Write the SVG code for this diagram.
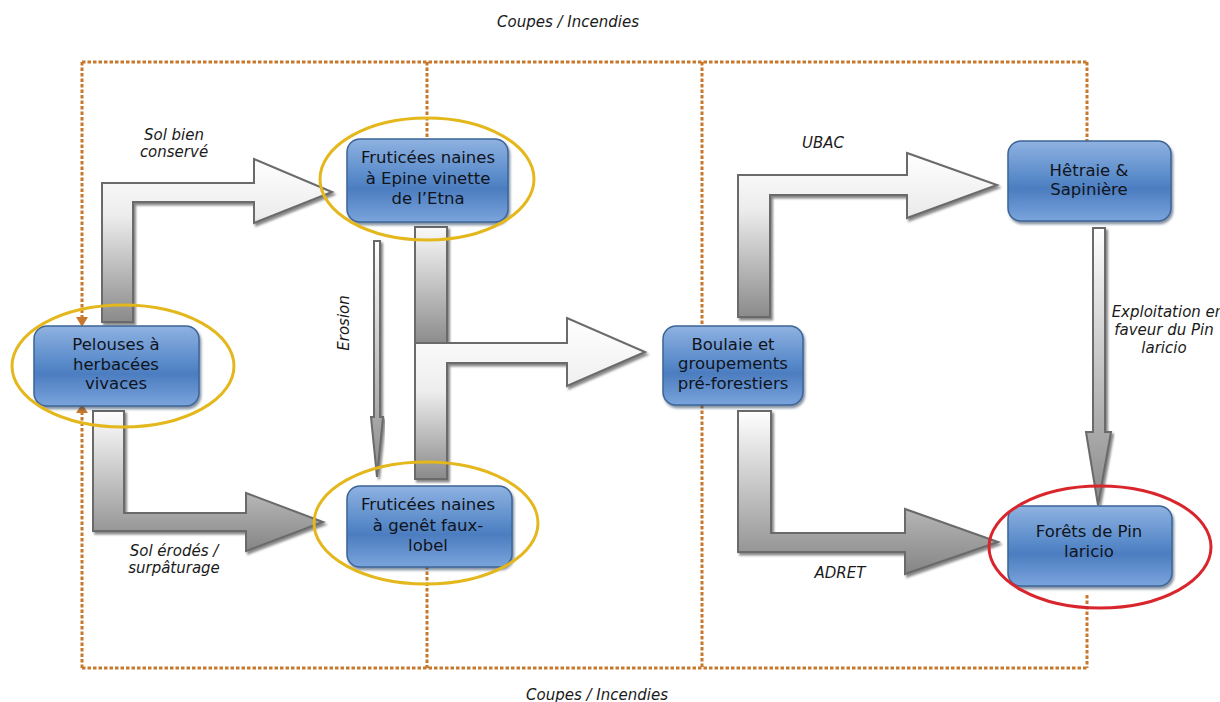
<svg xmlns="http://www.w3.org/2000/svg" width="1220" height="702" viewBox="0 0 1220 702">
  <defs>
    <linearGradient id="nodeFill" x1="0" y1="0" x2="0" y2="1">
      <stop offset="0" stop-color="#8fb2e1"/>
      <stop offset="0.45" stop-color="#5a8bca"/>
      <stop offset="0.6" stop-color="#4c7dc0"/>
      <stop offset="1" stop-color="#7aa4dc"/>
    </linearGradient>
    <filter id="nodeShadow" x="-10%" y="-10%" width="125%" height="130%">
      <feDropShadow dx="1.5" dy="2.5" stdDeviation="1.2" flood-color="#1f3556" flood-opacity="0.55"/>
    </filter>
    <filter id="arrowShadow" x="-10%" y="-10%" width="125%" height="125%">
      <feDropShadow dx="2" dy="2.5" stdDeviation="0.8" flood-color="#555" flood-opacity="0.7"/>
    </filter>
    <linearGradient id="gSolBien" gradientUnits="userSpaceOnUse" x1="0" y1="159" x2="0" y2="322">
      <stop offset="0" stop-color="#ffffff"/>
      <stop offset="0.35" stop-color="#ececec"/>
      <stop offset="1" stop-color="#8a8a8a"/>
    </linearGradient>
    <linearGradient id="gSolErode" gradientUnits="userSpaceOnUse" x1="0" y1="411" x2="0" y2="551">
      <stop offset="0" stop-color="#ffffff"/>
      <stop offset="1" stop-color="#858585"/>
    </linearGradient>
    <linearGradient id="gMidUpper" gradientUnits="userSpaceOnUse" x1="0" y1="227" x2="0" y2="343">
      <stop offset="0" stop-color="#fafafa"/>
      <stop offset="1" stop-color="#8c8c8c"/>
    </linearGradient>
    <linearGradient id="gMidBent" gradientUnits="userSpaceOnUse" x1="0" y1="318" x2="0" y2="479">
      <stop offset="0" stop-color="#ffffff"/>
      <stop offset="0.45" stop-color="#eeeeee"/>
      <stop offset="1" stop-color="#8a8a8a"/>
    </linearGradient>
    <linearGradient id="gErosion" gradientUnits="userSpaceOnUse" x1="0" y1="241" x2="0" y2="477">
      <stop offset="0" stop-color="#ffffff"/>
      <stop offset="1" stop-color="#8a8a8a"/>
    </linearGradient>
    <linearGradient id="gUbac" gradientUnits="userSpaceOnUse" x1="0" y1="153" x2="0" y2="317">
      <stop offset="0" stop-color="#ffffff"/>
      <stop offset="0.35" stop-color="#ececec"/>
      <stop offset="1" stop-color="#8a8a8a"/>
    </linearGradient>
    <linearGradient id="gAdret" gradientUnits="userSpaceOnUse" x1="0" y1="411" x2="0" y2="574">
      <stop offset="0" stop-color="#ffffff"/>
      <stop offset="1" stop-color="#858585"/>
    </linearGradient>
    <linearGradient id="gExploit" gradientUnits="userSpaceOnUse" x1="0" y1="228" x2="0" y2="505">
      <stop offset="0" stop-color="#ffffff"/>
      <stop offset="1" stop-color="#8a8a8a"/>
    </linearGradient>
    <style>
      .dots { fill: none; stroke: #c8782c; stroke-width: 3; stroke-dasharray: 3.5 2; }
      .dothead { fill: #c8782c; }
      .arrow { stroke: #6a6a6a; stroke-width: 2; stroke-linejoin: miter; filter: url(#arrowShadow); }
      .node rect { fill: url(#nodeFill); stroke: #3d6596; stroke-width: 1.5; filter: url(#nodeShadow); }
      .node text { font-family: "DejaVu Sans", Verdana, sans-serif; font-size: 16.5px; fill: #10141c; text-anchor: middle; }
      .ring { fill: none; stroke: #e4b71c; stroke-width: 3; }
      .ring.red { stroke: #d8262c; }
      .lbl { font-family: "DejaVu Sans", Verdana, sans-serif; font-style: italic; font-size: 15px; fill: #1a1a1a; text-anchor: middle; }
    </style>
  </defs>

  <rect width="1220" height="702" fill="#ffffff"/>

  <!-- dotted cutting / fire frame -->
  <g id="coupes">
    <path class="dots" d="M82,62 H1087 M82,668 H1087 M82,62 V318 M82,668 V413 M427,62 V139 M427,566 V668 M702,62 V326 M702,405 V668 M1087,62 V141 M1087,595 V668"/>
    <polygon class="dothead" points="76,317 88,317 82,327"/>
    <polygon class="dothead" points="76,413 88,413 82,404"/>
  </g>

  <!-- block arrows -->
  <g id="connectors">
    <path class="arrow" fill="url(#gSolBien)" d="M102,322 V183 H254 V159 L332,192 L254,223 V202 H133 V322 Z"/>
    <path class="arrow" fill="url(#gSolErode)" d="M93,411 H124 V513 H246 V493 L323,522 L246,551 V531 H93 Z"/>
    <rect class="arrow" fill="url(#gMidUpper)" x="415" y="227" width="32" height="116"/>
    <path class="arrow" fill="url(#gMidBent)" d="M415,479 V343 H567 V318 L645,352 L567,386 V363 H447 V479 Z"/>
    <path class="arrow" fill="url(#gErosion)" stroke-width="1.5" d="M374,241 H380 V417 H383 L377,477 L371,417 H374 Z"/>
    <path class="arrow" fill="url(#gUbac)" d="M738,317 V175 H907 V153 L997,185 L907,218 V195 H770 V317 Z"/>
    <path class="arrow" fill="url(#gAdret)" d="M738,411 H771 V533 H905 V509 L998,542 L905,574 V552 H738 Z"/>
    <path class="arrow" fill="url(#gExploit)" d="M1093,228 H1105 V432 H1111 L1098,505 L1086,432 H1093 Z"/>
  </g>

  <!-- vegetation stages -->
  <g id="pelouses" class="node">
    <rect x="34" y="326" width="165" height="80" rx="13"/>
    <text x="116" y="350">Pelouses à</text>
    <text x="116" y="370">herbacées</text>
    <text x="116" y="389">vivaces</text>
  </g>
  <g id="fruticees-epine" class="node">
    <rect x="347" y="139" width="161" height="83" rx="13"/>
    <text x="428" y="163">Fruticées naines</text>
    <text x="428" y="184">à Epine vinette</text>
    <text x="428" y="204">de l’Etna</text>
  </g>
  <g id="fruticees-genet" class="node">
    <rect x="347" y="486" width="165" height="81" rx="13"/>
    <text x="428" y="510">Fruticées naines</text>
    <text x="428" y="531">à genêt faux-</text>
    <text x="428" y="551">lobel</text>
  </g>
  <g id="boulaie" class="node">
    <rect x="663" y="326" width="140" height="79" rx="13"/>
    <text x="733" y="350">Boulaie et</text>
    <text x="733" y="369">groupements</text>
    <text x="733" y="389">pré-forestiers</text>
  </g>
  <g id="hetraie" class="node">
    <rect x="1008" y="141" width="163" height="80" rx="13"/>
    <text x="1089" y="176">Hêtraie &amp;</text>
    <text x="1089" y="195">Sapinière</text>
  </g>
  <g id="forets-pin" class="node">
    <rect x="1008" y="506" width="164" height="80" rx="13"/>
    <text x="1089" y="537">Forêts de Pin</text>
    <text x="1089" y="557">laricio</text>
  </g>

  <!-- highlight rings -->
  <g id="rings">
    <ellipse class="ring" cx="123" cy="366" rx="111" ry="61"/>
    <ellipse class="ring" cx="427" cy="179" rx="107" ry="61"/>
    <ellipse class="ring" cx="426" cy="523" rx="112" ry="61"/>
    <ellipse class="ring red" cx="1100" cy="547" rx="111" ry="61"/>
  </g>

  <!-- labels -->
  <g id="labels">
    <text class="lbl" x="568" y="27">Coupes / Incendies</text>
    <text class="lbl" x="597" y="700">Coupes / Incendies</text>
    <text class="lbl" x="174" y="140">Sol bien</text>
    <text class="lbl" x="174" y="157">conservé</text>
    <text class="lbl" x="174" y="556">Sol érodés /</text>
    <text class="lbl" x="174" y="573">surpâturage</text>
    <text class="lbl" transform="translate(349,323) rotate(-90)">Erosion</text>
    <text class="lbl" x="823" y="148">UBAC</text>
    <text class="lbl" x="840" y="578">ADRET</text>
    <text class="lbl" x="1168" y="317">Exploitation en</text>
    <text class="lbl" x="1164" y="335">faveur du Pin</text>
    <text class="lbl" x="1164" y="353">laricio</text>
  </g>
</svg>
